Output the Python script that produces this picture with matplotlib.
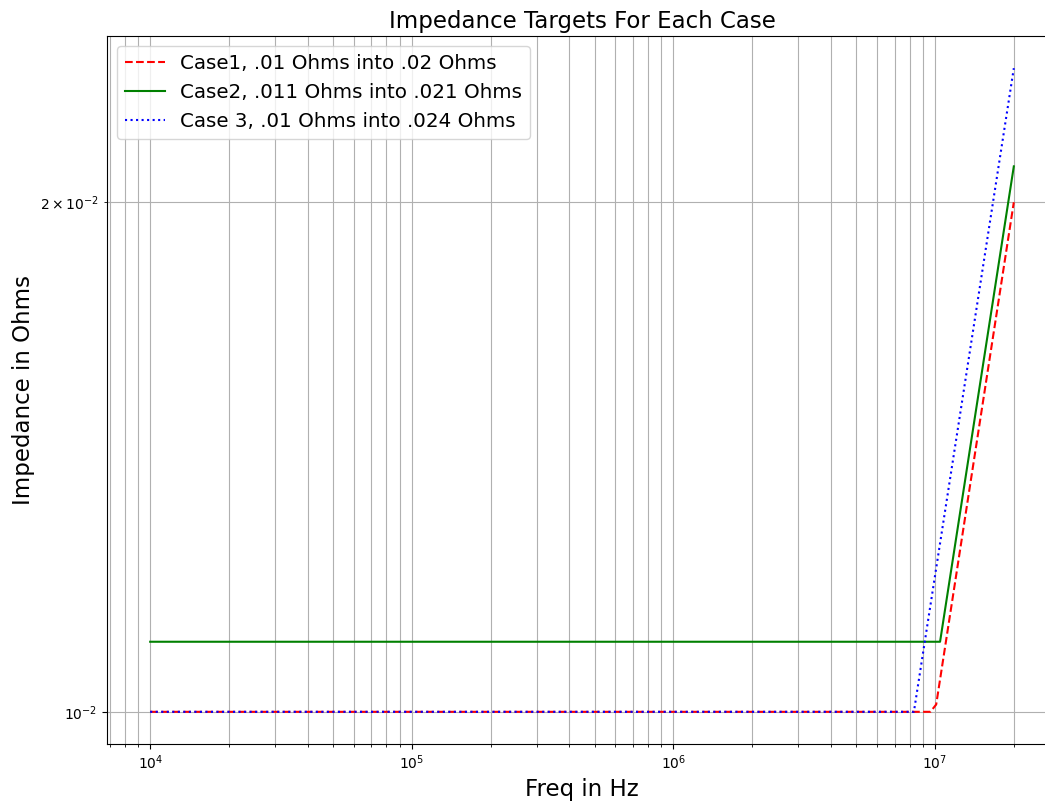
import matplotlib
matplotlib.use("Agg")
import matplotlib.pyplot as plt
from matplotlib.ticker import LogLocator, LogFormatterSciNotation

# impedance target breakpoints (Hz, Ohms)
case1_f = [1e4, 9.6e6, 1.01e7, 2e7]
case1_z = [0.01, 0.01, 0.0101, 0.02]
case2_f = [1e4, 1.045e7, 2e7]
case2_z = [0.011, 0.011, 0.021]
case3_f = [1e4, 8.3e6, 2e7]
case3_z = [0.01, 0.01, 0.024]

labels = ["Case1, .01 Ohms into .02 Ohms",
          "Case2, .011 Ohms into .021 Ohms",
          "Case 3, .01 Ohms into .024 Ohms"]

fig = plt.figure(figsize=(10.45, 8.01), dpi=100)
ax = fig.add_axes([107/1045, 57/801, 950/1045, 708/801])

ax.loglog(case1_f, case1_z, "r--", label=labels[0])
ax.loglog(case2_f, case2_z, "g-", label=labels[1])
ax.loglog(case3_f, case3_z, "b:", label=labels[2])

# only the 2x10^-2 minor tick on y, like the old style
ax.yaxis.set_minor_locator(LogLocator(subs=(2.0,)))
ax.yaxis.set_minor_formatter(LogFormatterSciNotation(labelOnlyBase=False))

ax.grid(True, which="both")
ax.set_title("Impedance Targets For Each Case", fontsize=16.5)
ax.set_xlabel("Freq in Hz", fontsize=16.5)
ax.set_ylabel("Impedance in Ohms", fontsize=16.5)
ax.legend(loc="upper left", fontsize=14.3)

fig.savefig("out.png", dpi=100)
